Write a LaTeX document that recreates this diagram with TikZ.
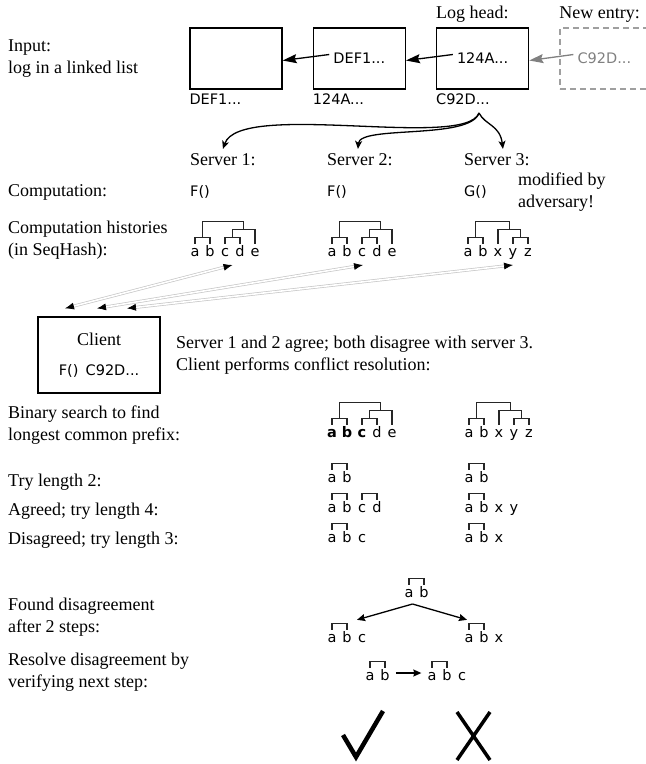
\documentclass[tikz,border=0pt]{standalone}
\usepackage{fontspec}
\setmainfont{Liberation Serif}
\setsansfont{DejaVu Sans}
\usetikzlibrary{arrows.meta, positioning, calc}

\newcommand{\hashfont}{\sffamily\fontsize{14.5}{17}\selectfont}

\tikzstyle{block} = [rectangle, draw=black, line width=1.3pt, minimum width=92pt, minimum height=61pt, inner sep=0pt]
\tikzstyle{newblock} = [block, draw=gray!75, minimum width=89pt, dash pattern=on 6pt off 4pt]
\tikzstyle{txt} = [inner sep=0pt, anchor=base west, align=left]
\tikzstyle{hash} = [inner sep=0pt, font=\hashfont]
\tikzstyle{leaf} = [hash, anchor=base, text height=12pt, text depth=0pt]
\tikzstyle{link} = [line width=1.2pt, black!85]
\tikzstyle{arrow} = [line width=1.3pt, -{Stealth[length=14pt,width=9pt,inset=2pt]}]
\tikzstyle{fork} = [line width=1.3pt, -{Stealth[length=8pt,width=7pt,inset=2pt]}]
\tikzstyle{narrow} = [line width=1.3pt, -{Stealth[length=8pt,width=7pt,inset=1pt]}]
\tikzstyle{reply} = [draw=gray!45, line width=0.7pt, double=white, double distance=1.6pt,
  {Latex[black,length=9pt,width=7pt]}-{Latex[black,length=9pt,width=7pt]}]

% a row of leaves: name, x of first leaf, baseline, letters
\newcommand{\leaves}[4]{%
  \foreach \lbl [count=\i] in {#4}
    \node (#1\i) [leaf] at (#2+15*\i-15,#3) {\lbl};
}
% bracket from one end up by a height, across and down to the other end
\newcommand{\hjoin}[4]{%
  \draw[link] (#1) -- ++(0,-#3) -| coordinate[pos=.25] (#4) (#2);
}

\begin{document}
\begin{tikzpicture}[x=1pt, y=-1pt, font=\fontsize{18}{21.5}\selectfont, node distance=30pt]
    \useasboundingbox (0,0) rectangle (646,764);

    % the log as a linked list
    \node (tail) [block]              at (236,58.5) {};
    \node (mid)  [block, right=of tail] {};
    \node (head) [block, right=of mid]  {};
    \node (new)  [newblock, right=of head] {};

    \node (midkey)  [hash]       at (mid)  {DEF1...};
    \node (headkey) [hash]       at (head) {124A...};
    \node (newkey)  [hash, gray] at (new)  {C92D...};

    \node (tailid) [hash, anchor=north west] at ([yshift=-4pt]tail.south west) {DEF1...};
    \node (midid)  [hash, anchor=north west] at ([yshift=-4pt]mid.south west)  {124A...};
    \node (headid) [hash, anchor=north west] at ([yshift=-4pt]head.south west) {C92D...};

    \node (headlbl) [txt] at ([yshift=9pt]head.north west) {Log head:};
    \node (newlbl)  [txt] at ([yshift=9pt]new.north west)  {New entry:};

    \draw [arrow]       ([xshift=-4pt,yshift=4pt]midkey.west)  -- ([yshift=-2pt]tail.east);
    \draw [arrow]       ([xshift=-4pt,yshift=4pt]headkey.west) -- ([yshift=-2pt]mid.east);
    \draw [arrow, gray] ([xshift=-4pt,yshift=4pt]newkey.west)  -- ([yshift=-2pt]head.east);

    \node (input) [txt] at (8,73) {Input:\\log in a linked list};

    % servers
    \node (srv1) [txt] at (190,165) {Server 1:};
    \node (srv2) [txt] at (327,165) {Server 2:};
    \node (srv3) [txt] at (464,165) {Server 3:};

    \coordinate (fork) at (479,113);
    \draw [fork] (fork) .. controls (465,150) and (240,100) .. ([yshift=4pt]srv1.north);
    \draw [fork] (fork) .. controls (470,140) and (360,125) .. ([xshift=-2pt,yshift=4pt]srv2.north);
    \draw [fork] (fork) .. controls (485,125) and (500,125) .. ([xshift=6pt,yshift=4pt]srv3.north);

    \node (comp) [txt] at (8,196) {Computation:};
    \node (f1) [hash, anchor=base west] at (190,196) {F()};
    \node (f2) [hash, anchor=base west] at (327,196) {F()};
    \node (g3) [hash, anchor=base west] at (464,196) {G()};
    \node (adv) [txt] at (518,207) {modified by\\adversary!};

    \node (hist) [txt] at (8,255) {Computation histories\\(in SeqHash):};

    \leaves{sa}{195}{256}{a,b,c,d,e}
    \hjoin{sa1.north}{sa2.north}{6}{sa12}
    \hjoin{sa3.north}{sa4.north}{6}{sa34}
    \hjoin{sa34}{sa5.north}{8}{sa345}
    \hjoin{sa12}{sa345}{16}{saroot}

    \leaves{sb}{332}{256}{a,b,c,d,e}
    \hjoin{sb1.north}{sb2.north}{6}{sb12}
    \hjoin{sb3.north}{sb4.north}{6}{sb34}
    \hjoin{sb34}{sb5.north}{8}{sb345}
    \hjoin{sb12}{sb345}{16}{sbroot}

    \leaves{sc}{468}{256}{a,b,x,y,z}
    \hjoin{sc1.north}{sc2.north}{6}{sc12}
    \hjoin{sc4.north}{sc5.north}{6}{sc45}
    \hjoin{sc3.north}{sc45}{14}{sc345}
    \hjoin{sc12}{sc345}{16}{scroot}

    % client
    \node (client) [block, minimum width=122pt, minimum height=76pt, align=center] at (99,355)
      {Client\\[9pt]{\hashfont F()\enspace C92D...}};

    \draw [reply] ([xshift=-34pt,yshift=8pt]client.north) -- ($(sa3.base)!.5!(sa4.base)+(0,9)$);
    \draw [reply] ([xshift=-2pt,yshift=8pt]client.north)  -- ($(sb3.base)+(1,9)$);
    \draw [reply] ([xshift=28pt,yshift=8pt]client.north)  -- ($(sc4.base)+(0,9)$);

    \node (agree) [txt] at (176,370) {Server 1 and 2 agree; both disagree with server 3.\\Client performs conflict resolution:};

    % conflict resolution
    \node (search) [txt] at (8,440) {Binary search to find\\longest common prefix:};
    \leaves{bl}{332}{437}{\textbf{a},\textbf{b},\textbf{c},d,e}
    \hjoin{bl1.north}{bl2.north}{6}{bl12}
    \hjoin{bl3.north}{bl4.north}{6}{bl34}
    \hjoin{bl34}{bl5.north}{8}{bl345}
    \hjoin{bl12}{bl345}{16}{blroot}
    \leaves{br}{469}{437}{a,b,x,y,z}
    \hjoin{br1.north}{br2.north}{6}{br12}
    \hjoin{br4.north}{br5.north}{6}{br45}
    \hjoin{br3.north}{br45}{14}{br345}
    \hjoin{br12}{br345}{16}{brroot}

    \node (try2) [txt] at (8,486) {Try length 2:};
    \leaves{tl}{332}{482}{a,b}
    \hjoin{tl1.north}{tl2.north}{6}{tl12}
    \leaves{tr}{469}{482}{a,b}
    \hjoin{tr1.north}{tr2.north}{6}{tr12}

    \node (try4) [txt] at (8,515) {Agreed; try length 4:};
    \leaves{gl}{332}{512}{a,b,c,d}
    \hjoin{gl1.north}{gl2.north}{6}{gl12}
    \hjoin{gl3.north}{gl4.north}{6}{gl34}
    \leaves{gr}{469}{512}{a,b,x,y}
    \hjoin{gr1.north}{gr2.north}{6}{gr12}

    \node (try3) [txt] at (8,544) {Disagreed; try length 3:};
    \leaves{dl}{332}{542}{a,b,c}
    \hjoin{dl1.north}{dl2.north}{6}{dl12}
    \leaves{dr}{469}{542}{a,b,x}
    \hjoin{dr1.north}{dr2.north}{6}{dr12}

    \node (found) [txt] at (8,632) {Found disagreement\\after 2 steps:};
    \leaves{ft}{409}{597}{a,b}
    \hjoin{ft1.north}{ft2.north}{6}{ft12}
    \leaves{fl}{332}{642}{a,b,c}
    \hjoin{fl1.north}{fl2.north}{6}{fl12}
    \leaves{fr}{469}{642}{a,b,x}
    \hjoin{fr1.north}{fr2.north}{6}{fr12}
    \draw [narrow] ($(ft1.base)!.5!(ft2.base)+(-4,7)$) -- ($(fl2.north)+(10,-10)$);
    \draw [narrow] ($(ft1.base)!.5!(ft2.base)+(-4,7)$) -- ($(fr1.north)+(-2,-10)$);

    \node (resolve) [txt] at (8,687) {Resolve disagreement by\\verifying next step:};
    \leaves{va}{370}{680}{a,b}
    \hjoin{va1.north}{va2.north}{6}{va12}
    \leaves{vb}{432}{680}{a,b,c}
    \hjoin{vb1.north}{vb2.north}{6}{vb12}
    \draw [narrow] ([xshift=6pt,yshift=7pt]va2.base east) -- ([xshift=-6pt,yshift=7pt]vb1.base west);

    % outcome
    \draw [line width=4.5pt] (343,735) -- (356,757) -- (383,711);
    \draw [line width=3.5pt] (457,712) -- (490,760) (490,712) -- (457,760);
  \end{tikzpicture}
\end{document}
